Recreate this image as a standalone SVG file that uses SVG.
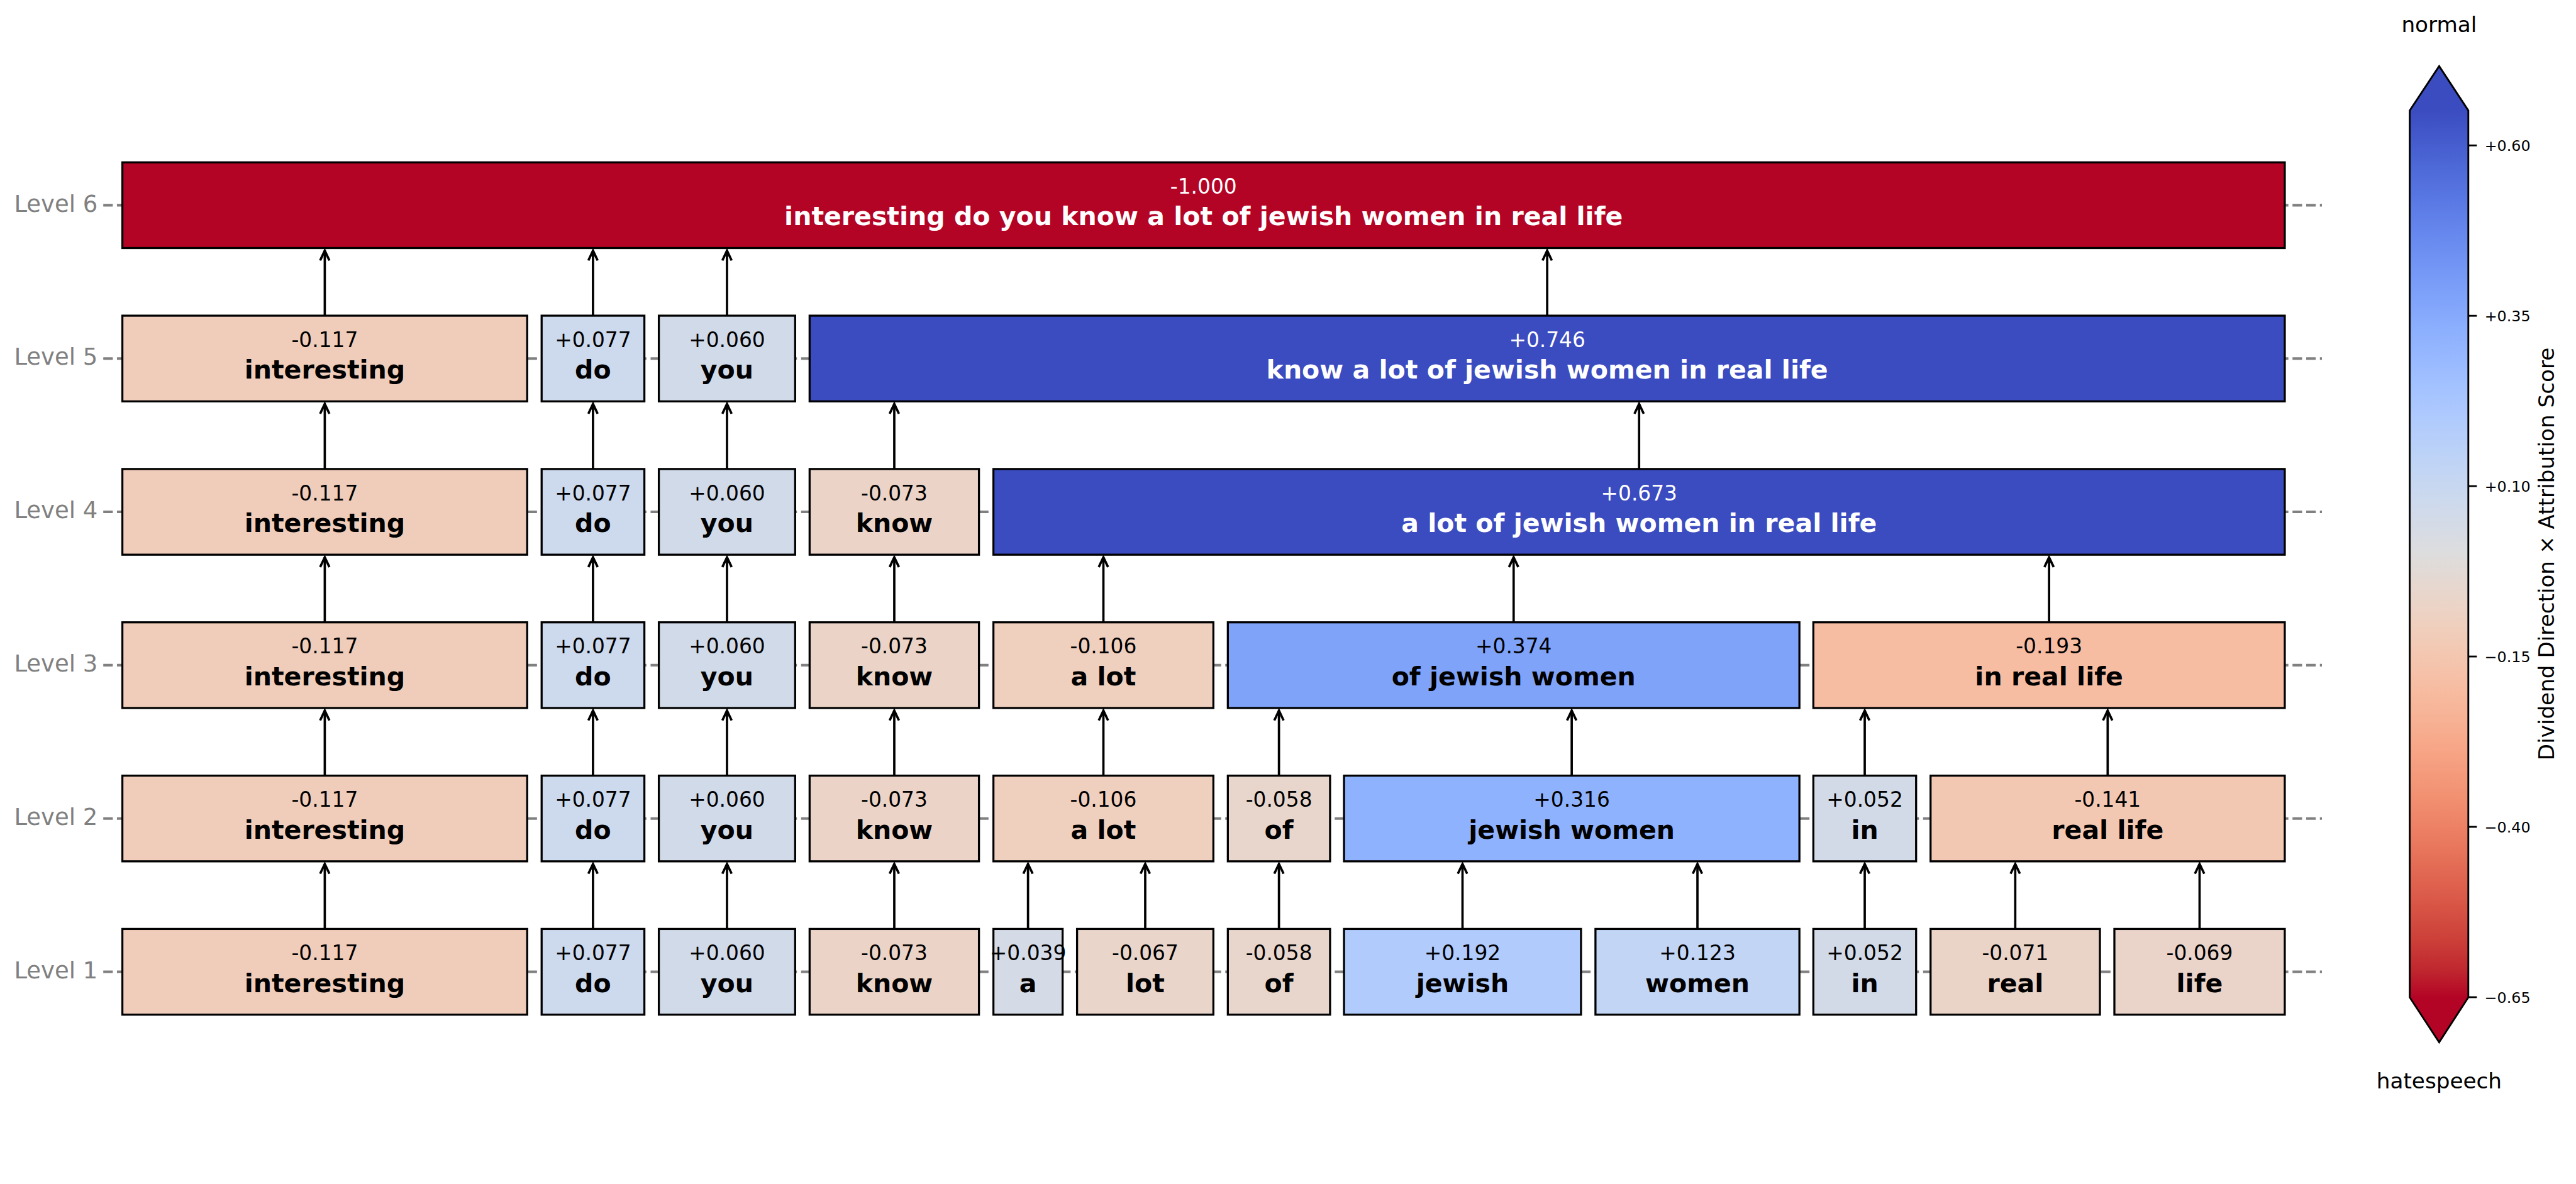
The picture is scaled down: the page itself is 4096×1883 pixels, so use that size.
<svg xmlns="http://www.w3.org/2000/svg" width="4096" height="1883" viewBox="0 0 4096 1883">
<style>
text{font-family:"DejaVu Sans","Liberation Sans",sans-serif}
.v{font-size:40px;text-anchor:middle;fill:#000}
.t{font-size:50px;font-weight:bold;text-anchor:middle;fill:#000}
.w{fill:#fff}
.lvl{font-size:45px;text-anchor:end;fill:#808080}
.grid line{stroke:#808080;stroke-width:5;stroke-dasharray:18.5 8}
rect.b{stroke:#000;stroke-width:4}
.conn path{stroke:#000;stroke-width:4.5;fill:none;marker-end:url(#ah)}
.tk{stroke:#000;stroke-width:3.5}
.tl{font-size:29px;fill:#000}
.cbt{font-size:41.7px;text-anchor:middle;fill:#000}
</style>
<defs>
<marker id="ah" markerUnits="userSpaceOnUse" viewBox="-4 -4 30 28" refX="20" refY="10" markerWidth="30" markerHeight="28" orient="auto" overflow="visible">
<path d="M1,1 L20,10 L1,19" fill="none" stroke="#000" stroke-width="4.5" stroke-linejoin="miter"/>
</marker>
<linearGradient id="cb" gradientUnits="userSpaceOnUse" x1="0" y1="214" x2="0" y2="1932">
<stop offset="0" stop-color="rgb(59,76,192)"/>
<stop offset="0.03125" stop-color="rgb(68,90,204)"/>
<stop offset="0.0625" stop-color="rgb(77,104,215)"/>
<stop offset="0.09375" stop-color="rgb(87,117,225)"/>
<stop offset="0.125" stop-color="rgb(98,130,234)"/>
<stop offset="0.15625" stop-color="rgb(108,142,241)"/>
<stop offset="0.1875" stop-color="rgb(119,154,247)"/>
<stop offset="0.21875" stop-color="rgb(130,165,251)"/>
<stop offset="0.25" stop-color="rgb(141,176,254)"/>
<stop offset="0.28125" stop-color="rgb(152,185,255)"/>
<stop offset="0.3125" stop-color="rgb(163,194,255)"/>
<stop offset="0.34375" stop-color="rgb(174,201,253)"/>
<stop offset="0.375" stop-color="rgb(184,208,249)"/>
<stop offset="0.40625" stop-color="rgb(194,213,244)"/>
<stop offset="0.4375" stop-color="rgb(204,217,238)"/>
<stop offset="0.46875" stop-color="rgb(213,219,230)"/>
<stop offset="0.5" stop-color="rgb(221,221,221)"/>
<stop offset="0.53125" stop-color="rgb(229,216,209)"/>
<stop offset="0.5625" stop-color="rgb(236,211,197)"/>
<stop offset="0.59375" stop-color="rgb(241,204,184)"/>
<stop offset="0.625" stop-color="rgb(245,196,172)"/>
<stop offset="0.65625" stop-color="rgb(247,187,160)"/>
<stop offset="0.6875" stop-color="rgb(247,177,148)"/>
<stop offset="0.71875" stop-color="rgb(247,166,135)"/>
<stop offset="0.75" stop-color="rgb(244,154,123)"/>
<stop offset="0.78125" stop-color="rgb(241,141,111)"/>
<stop offset="0.8125" stop-color="rgb(236,127,99)"/>
<stop offset="0.84375" stop-color="rgb(229,112,88)"/>
<stop offset="0.875" stop-color="rgb(222,96,77)"/>
<stop offset="0.90625" stop-color="rgb(213,80,66)"/>
<stop offset="0.9375" stop-color="rgb(203,62,56)"/>
<stop offset="0.96875" stop-color="rgb(192,40,47)"/>
<stop offset="1" stop-color="rgb(180,4,38)"/>
</linearGradient>
</defs>
<rect width="4096" height="1883" fill="#fff"/>
<g transform="scale(0.821)">
<g id="levels">
<text class="lvl" x="189" y="410">Level 6</text>
<text class="lvl" x="189" y="707">Level 5</text>
<text class="lvl" x="189" y="1004">Level 4</text>
<text class="lvl" x="189" y="1301">Level 3</text>
<text class="lvl" x="189" y="1598">Level 2</text>
<text class="lvl" x="189" y="1895">Level 1</text>
</g>
<g class="grid">
<line x1="200" y1="397.5" x2="4497" y2="397.5"/>
<line x1="200" y1="694.5" x2="4497" y2="694.5"/>
<line x1="200" y1="991.5" x2="4497" y2="991.5"/>
<line x1="200" y1="1288.5" x2="4497" y2="1288.5"/>
<line x1="200" y1="1585.5" x2="4497" y2="1585.5"/>
<line x1="200" y1="1882.5" x2="4497" y2="1882.5"/>
</g>
<g id="connectors" class="conn">
<path d="M629,1799.5V1673.5"/><path d="M1148.5,1799.5V1673.5"/><path d="M1408,1799.5V1673.5"/><path d="M1732,1799.5V1673.5"/><path d="M1991,1799.5V1673.5"/><path d="M2218,1799.5V1673.5"/><path d="M2477,1799.5V1673.5"/><path d="M2832.5,1799.5V1673.5"/><path d="M3287.5,1799.5V1673.5"/><path d="M3611.5,1799.5V1673.5"/><path d="M3903,1799.5V1673.5"/><path d="M4260,1799.5V1673.5"/>
<path d="M629,1502.5V1376.5"/><path d="M1148.5,1502.5V1376.5"/><path d="M1408,1502.5V1376.5"/><path d="M1732,1502.5V1376.5"/><path d="M2137,1502.5V1376.5"/><path d="M2477,1502.5V1376.5"/><path d="M3044,1502.5V1376.5"/><path d="M3611.5,1502.5V1376.5"/><path d="M4082,1502.5V1376.5"/>
<path d="M629,1205.5V1079.5"/><path d="M1148.5,1205.5V1079.5"/><path d="M1408,1205.5V1079.5"/><path d="M1732,1205.5V1079.5"/><path d="M2137,1205.5V1079.5"/><path d="M2931.5,1205.5V1079.5"/><path d="M3968.5,1205.5V1079.5"/>
<path d="M629,908.5V782.5"/><path d="M1148.5,908.5V782.5"/><path d="M1408,908.5V782.5"/><path d="M1732,908.5V782.5"/><path d="M3174.5,908.5V782.5"/>
<path d="M629,611.5V485.5"/><path d="M1148.5,611.5V485.5"/><path d="M1408,611.5V485.5"/><path d="M2996.5,611.5V485.5"/>
</g>
<!-- Level 1 -->
<g id="L1-interesting"><rect class="b" x="237" y="1799.5" width="784" height="166" fill="#f0cdba"/><text class="v" x="629" y="1860">-0.117</text><text class="t" x="629" y="1921.5">interesting</text></g>
<g id="L1-do"><rect class="b" x="1049" y="1799.5" width="199" height="166" fill="#cdd9ed"/><text class="v" x="1148.5" y="1860">+0.077</text><text class="t" x="1148.5" y="1921.5">do</text></g>
<g id="L1-you"><rect class="b" x="1276" y="1799.5" width="264" height="166" fill="#d1dae9"/><text class="v" x="1408" y="1860">+0.060</text><text class="t" x="1408" y="1921.5">you</text></g>
<g id="L1-know"><rect class="b" x="1568" y="1799.5" width="328" height="166" fill="#ebd4c7"/><text class="v" x="1732" y="1860">-0.073</text><text class="t" x="1732" y="1921.5">know</text></g>
<g id="L1-a"><rect class="b" x="1924" y="1799.5" width="134" height="166" fill="#d5dbe6"/><text class="v" x="1991" y="1860">+0.039</text><text class="t" x="1991" y="1921.5">a</text></g>
<g id="L1-lot"><rect class="b" x="2086" y="1799.5" width="264" height="166" fill="#e9d5c9"/><text class="v" x="2218" y="1860">-0.067</text><text class="t" x="2218" y="1921.5">lot</text></g>
<g id="L1-of"><rect class="b" x="2378" y="1799.5" width="198" height="166" fill="#e8d6cc"/><text class="v" x="2477" y="1860">-0.058</text><text class="t" x="2477" y="1921.5">of</text></g>
<g id="L1-jewish"><rect class="b" x="2603" y="1799.5" width="459" height="166" fill="#b1cbfc"/><text class="v" x="2832.5" y="1860">+0.192</text><text class="t" x="2832.5" y="1921.5">jewish</text></g>
<g id="L1-women"><rect class="b" x="3090" y="1799.5" width="395" height="166" fill="#c2d5f4"/><text class="v" x="3287.5" y="1860">+0.123</text><text class="t" x="3287.5" y="1921.5">women</text></g>
<g id="L1-in"><rect class="b" x="3512" y="1799.5" width="199" height="166" fill="#d2dae8"/><text class="v" x="3611.5" y="1860">+0.052</text><text class="t" x="3611.5" y="1921.5">in</text></g>
<g id="L1-real"><rect class="b" x="3739" y="1799.5" width="328" height="166" fill="#ead4c8"/><text class="v" x="3903" y="1860">-0.071</text><text class="t" x="3903" y="1921.5">real</text></g>
<g id="L1-life"><rect class="b" x="4095" y="1799.5" width="330" height="166" fill="#ead4c9"/><text class="v" x="4260" y="1860">-0.069</text><text class="t" x="4260" y="1921.5">life</text></g>
<!-- Level 2 -->
<g id="L2-interesting"><rect class="b" x="237" y="1502.5" width="784" height="166" fill="#f0cdba"/><text class="v" x="629" y="1563">-0.117</text><text class="t" x="629" y="1624.5">interesting</text></g>
<g id="L2-do"><rect class="b" x="1049" y="1502.5" width="199" height="166" fill="#cdd9ed"/><text class="v" x="1148.5" y="1563">+0.077</text><text class="t" x="1148.5" y="1624.5">do</text></g>
<g id="L2-you"><rect class="b" x="1276" y="1502.5" width="264" height="166" fill="#d1dae9"/><text class="v" x="1408" y="1563">+0.060</text><text class="t" x="1408" y="1624.5">you</text></g>
<g id="L2-know"><rect class="b" x="1568" y="1502.5" width="328" height="166" fill="#ebd4c7"/><text class="v" x="1732" y="1563">-0.073</text><text class="t" x="1732" y="1624.5">know</text></g>
<g id="L2-alot"><rect class="b" x="1924" y="1502.5" width="426" height="166" fill="#efcfbd"/><text class="v" x="2137" y="1563">-0.106</text><text class="t" x="2137" y="1624.5">a lot</text></g>
<g id="L2-of"><rect class="b" x="2378" y="1502.5" width="198" height="166" fill="#e8d6cc"/><text class="v" x="2477" y="1563">-0.058</text><text class="t" x="2477" y="1624.5">of</text></g>
<g id="L2-jewishwomen"><rect class="b" x="2603" y="1502.5" width="882" height="166" fill="#8fb2fe"/><text class="v" x="3044" y="1563">+0.316</text><text class="t" x="3044" y="1624.5">jewish women</text></g>
<g id="L2-in"><rect class="b" x="3512" y="1502.5" width="199" height="166" fill="#d2dae8"/><text class="v" x="3611.5" y="1563">+0.052</text><text class="t" x="3611.5" y="1624.5">in</text></g>
<g id="L2-reallife"><rect class="b" x="3739" y="1502.5" width="686" height="166" fill="#f3c8b2"/><text class="v" x="4082" y="1563">-0.141</text><text class="t" x="4082" y="1624.5">real life</text></g>
<!-- Level 3 -->
<g id="L3-interesting"><rect class="b" x="237" y="1205.5" width="784" height="166" fill="#f0cdba"/><text class="v" x="629" y="1266">-0.117</text><text class="t" x="629" y="1327.5">interesting</text></g>
<g id="L3-do"><rect class="b" x="1049" y="1205.5" width="199" height="166" fill="#cdd9ed"/><text class="v" x="1148.5" y="1266">+0.077</text><text class="t" x="1148.5" y="1327.5">do</text></g>
<g id="L3-you"><rect class="b" x="1276" y="1205.5" width="264" height="166" fill="#d1dae9"/><text class="v" x="1408" y="1266">+0.060</text><text class="t" x="1408" y="1327.5">you</text></g>
<g id="L3-know"><rect class="b" x="1568" y="1205.5" width="328" height="166" fill="#ebd4c7"/><text class="v" x="1732" y="1266">-0.073</text><text class="t" x="1732" y="1327.5">know</text></g>
<g id="L3-alot"><rect class="b" x="1924" y="1205.5" width="426" height="166" fill="#efcfbd"/><text class="v" x="2137" y="1266">-0.106</text><text class="t" x="2137" y="1327.5">a lot</text></g>
<g id="L3-ofjewishwomen"><rect class="b" x="2378" y="1205.5" width="1107" height="166" fill="#80a3fa"/><text class="v" x="2931.5" y="1266">+0.374</text><text class="t" x="2931.5" y="1327.5">of jewish women</text></g>
<g id="L3-inreallife"><rect class="b" x="3512" y="1205.5" width="913" height="166" fill="#f7bda3"/><text class="v" x="3968.5" y="1266">-0.193</text><text class="t" x="3968.5" y="1327.5">in real life</text></g>
<!-- Level 4 -->
<g id="L4-interesting"><rect class="b" x="237" y="908.5" width="784" height="166" fill="#f0cdba"/><text class="v" x="629" y="969">-0.117</text><text class="t" x="629" y="1030.5">interesting</text></g>
<g id="L4-do"><rect class="b" x="1049" y="908.5" width="199" height="166" fill="#cdd9ed"/><text class="v" x="1148.5" y="969">+0.077</text><text class="t" x="1148.5" y="1030.5">do</text></g>
<g id="L4-you"><rect class="b" x="1276" y="908.5" width="264" height="166" fill="#d1dae9"/><text class="v" x="1408" y="969">+0.060</text><text class="t" x="1408" y="1030.5">you</text></g>
<g id="L4-know"><rect class="b" x="1568" y="908.5" width="328" height="166" fill="#ebd4c7"/><text class="v" x="1732" y="969">-0.073</text><text class="t" x="1732" y="1030.5">know</text></g>
<g id="L4-alot-life"><rect class="b" x="1924" y="908.5" width="2501" height="166" fill="#3b4cc0"/><text class="v w" x="3174.5" y="969">+0.673</text><text class="t w" x="3174.5" y="1030.5">a lot of jewish women in real life</text></g>
<!-- Level 5 -->
<g id="L5-interesting"><rect class="b" x="237" y="611.5" width="784" height="166" fill="#f0cdba"/><text class="v" x="629" y="672">-0.117</text><text class="t" x="629" y="733.5">interesting</text></g>
<g id="L5-do"><rect class="b" x="1049" y="611.5" width="199" height="166" fill="#cdd9ed"/><text class="v" x="1148.5" y="672">+0.077</text><text class="t" x="1148.5" y="733.5">do</text></g>
<g id="L5-you"><rect class="b" x="1276" y="611.5" width="264" height="166" fill="#d1dae9"/><text class="v" x="1408" y="672">+0.060</text><text class="t" x="1408" y="733.5">you</text></g>
<g id="L5-know-life"><rect class="b" x="1568" y="611.5" width="2857" height="166" fill="#3b4cc0"/><text class="v w" x="2996.5" y="672">+0.746</text><text class="t w" x="2996.5" y="733.5">know a lot of jewish women in real life</text></g>
<!-- Level 6 -->
<g id="L6-all"><rect class="b" x="237" y="314.5" width="4188" height="166" fill="#b40426"/><text class="v w" x="2331" y="375">-1.000</text><text class="t w" x="2331" y="436.5">interesting do you know a lot of jewish women in real life</text></g>
<!-- Colorbar -->
<g id="colorbar">
<rect x="4667" y="214" width="113.5" height="1718" fill="url(#cb)"/>
<polygon points="4667,214.5 4724,128 4780.5,214.5" fill="#3b4cc0"/>
<polygon points="4667,1931.5 4724,2019 4780.5,1931.5" fill="#b40426"/>
<path d="M4667,214 L4724,128 L4780.5,214 L4780.5,1932 L4724,2019 L4667,1932 Z" fill="none" stroke="#000" stroke-width="3.5" stroke-linejoin="miter"/>
<line class="tk" x1="4780.5" y1="281.7" x2="4797" y2="281.7"/>
<line class="tk" x1="4780.5" y1="611.7" x2="4797" y2="611.7"/>
<line class="tk" x1="4780.5" y1="941.7" x2="4797" y2="941.7"/>
<line class="tk" x1="4780.5" y1="1271.7" x2="4797" y2="1271.7"/>
<line class="tk" x1="4780.5" y1="1601.7" x2="4797" y2="1601.7"/>
<line class="tk" x1="4780.5" y1="1931.7" x2="4797" y2="1931.7"/>
<text class="tl" x="4812" y="292.5">+0.60</text>
<text class="tl" x="4812" y="622.5">+0.35</text>
<text class="tl" x="4812" y="952.5">+0.10</text>
<text class="tl" x="4812" y="1282.5">−0.15</text>
<text class="tl" x="4812" y="1612.5">−0.40</text>
<text class="tl" x="4812" y="1942.5">−0.65</text>
<text class="cbt" x="4724" y="62">normal</text>
<text class="cbt" x="4724" y="2108">hatespeech</text>
<text class="cbt" transform="translate(4947,1073) rotate(-90)">Dividend Direction × Attribution Score</text>
</g>
</g>
</svg>
